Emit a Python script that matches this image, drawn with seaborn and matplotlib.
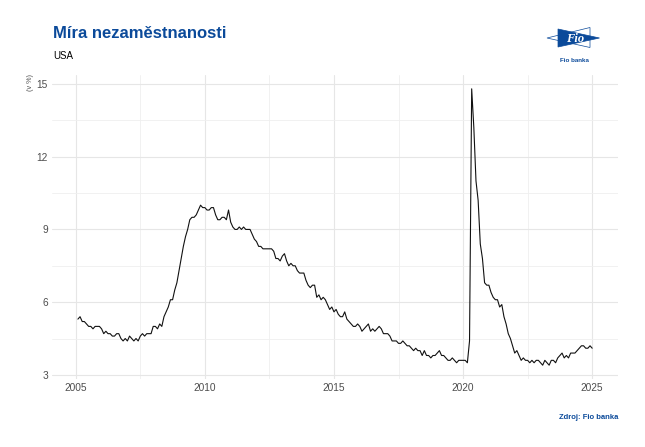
import numpy as np
import pandas as pd
import matplotlib
matplotlib.use("Agg")
import matplotlib.pyplot as plt
from matplotlib.patches import Polygon
from matplotlib.ticker import MultipleLocator
import seaborn as sns

# US unemployment rate (%), monthly, Jan 2005 - Dec 2024
rate_2005_2009 = [5.3, 5.4, 5.2, 5.2, 5.1, 5.0, 5.0, 4.9, 5.0, 5.0, 5.0, 4.9,
                  4.7, 4.8, 4.7, 4.7, 4.6, 4.6, 4.7, 4.7, 4.5, 4.4, 4.5, 4.4,
                  4.6, 4.5, 4.4, 4.5, 4.4, 4.6, 4.7, 4.6, 4.7, 4.7, 4.7, 5.0,
                  5.0, 4.9, 5.1, 5.0, 5.4, 5.6, 5.8, 6.1, 6.1, 6.5, 6.8, 7.3,
                  7.8, 8.3, 8.7, 9.0, 9.4, 9.5, 9.5, 9.6, 9.8, 10.0, 9.9, 9.9]
rate_2010_2014 = [9.8, 9.8, 9.9, 9.9, 9.6, 9.4, 9.4, 9.5, 9.5, 9.4, 9.8, 9.3,
                  9.1, 9.0, 9.0, 9.1, 9.0, 9.1, 9.0, 9.0, 9.0, 8.8, 8.6, 8.5,
                  8.3, 8.3, 8.2, 8.2, 8.2, 8.2, 8.2, 8.1, 7.8, 7.8, 7.7, 7.9,
                  8.0, 7.7, 7.5, 7.6, 7.5, 7.5, 7.3, 7.2, 7.2, 7.2, 6.9, 6.7,
                  6.6, 6.7, 6.7, 6.2, 6.3, 6.1, 6.2, 6.1, 5.9, 5.7, 5.8, 5.6]
rate_2015_2019 = [5.7, 5.5, 5.4, 5.4, 5.6, 5.3, 5.2, 5.1, 5.0, 5.0, 5.1, 5.0,
                  4.8, 4.9, 5.0, 5.1, 4.8, 4.9, 4.8, 4.9, 5.0, 4.9, 4.7, 4.7,
                  4.7, 4.6, 4.4, 4.4, 4.4, 4.3, 4.3, 4.4, 4.3, 4.2, 4.2, 4.1,
                  4.0, 4.1, 4.0, 4.0, 3.8, 4.0, 3.8, 3.8, 3.7, 3.8, 3.8, 3.9,
                  4.0, 3.8, 3.8, 3.7, 3.6, 3.6, 3.7, 3.6, 3.5, 3.6, 3.6, 3.6]
rate_2020_2024 = [3.6, 3.5, 4.4, 14.8, 13.2, 11.0, 10.2, 8.4, 7.8, 6.8, 6.7, 6.7,
                  6.4, 6.2, 6.1, 6.1, 5.8, 5.9, 5.4, 5.1, 4.7, 4.5, 4.2, 3.9,
                  4.0, 3.8, 3.6, 3.7, 3.6, 3.6, 3.5, 3.6, 3.5, 3.6, 3.6, 3.5,
                  3.4, 3.6, 3.5, 3.4, 3.6, 3.6, 3.5, 3.7, 3.8, 3.9, 3.7, 3.8,
                  3.7, 3.9, 3.9, 3.9, 4.0, 4.1, 4.2, 4.2, 4.1, 4.1, 4.2, 4.1]

title = "Míra nezaměstnanosti"
subtitle = "USA"
y_label = "(v %)"
caption = "Zdroj: Fio banka"

FIO_BLUE = "#0b4a9a"
W, H = 645, 447

rates = rate_2005_2009 + rate_2010_2014 + rate_2015_2019 + rate_2020_2024
dates = pd.date_range("2005-01-31", periods=len(rates), freq=pd.offsets.MonthEnd())
df = pd.DataFrame({"year": dates.year + dates.month / 12.0, "rate": rates})

sns.set_theme(style="whitegrid")
plt.rcParams["font.family"] = ["Liberation Sans", "DejaVu Sans"]

fig = plt.figure(figsize=(W / 100, H / 100), dpi=100)
ax = fig.add_axes([52 / W, 68 / H, (618 - 52) / W, (372 - 68) / H])

sns.lineplot(data=df, x="year", y="rate", ax=ax, color="#111111", linewidth=0.8)

ax.set_xlim(2004.08, 2026.0)
ax.set_ylim(2.83, 15.37)
ax.xaxis.set_major_locator(MultipleLocator(5))
ax.xaxis.set_minor_locator(MultipleLocator(2.5))
ax.yaxis.set_major_locator(MultipleLocator(3))
ax.yaxis.set_minor_locator(MultipleLocator(1.5))
ax.grid(which="major", color="#e6e6e6", linewidth=0.8)
ax.grid(which="minor", color="#efefef", linewidth=0.6)
ax.set_facecolor("white")
for s in ax.spines.values():
    s.set_visible(False)
ax.tick_params(axis="both", which="both", length=0, labelsize=7.3,
               labelcolor="#4d4d4d", pad=3)
ax.set_xlabel("")
ax.set_ylabel("")

# titles and caption
fig.text(53 / W, 1 - 38.5 / H, title, fontsize=12, fontweight="bold",
         color=FIO_BLUE, ha="left", va="baseline")
fig.text(53 / W, 1 - 59 / H, subtitle, fontsize=7, color="black",
         ha="left", va="baseline")
fig.text(30 / W, 1 - 74 / H, y_label, fontsize=5.2, color="#4d4d4d",
         rotation=90, ha="center", va="top")
fig.text(618 / W, 1 - 419 / H, caption, fontsize=5.5, fontweight="bold",
         color=FIO_BLUE, ha="right", va="baseline")

# Fio banka logo
lax = fig.add_axes([540 / W, 1 - 66 / H, 70 / W, 44 / H])
lax.set_xlim(540, 610)
lax.set_ylim(66, 22)
lax.axis("off")
lax.add_patch(Polygon([(590, 27.5), (590, 47.5), (547, 38)], closed=True,
                      fill=False, edgecolor=FIO_BLUE, linewidth=0.5))
lax.add_patch(Polygon([(558, 29), (558, 47), (599.5, 38)], closed=True,
                      facecolor=FIO_BLUE, edgecolor=FIO_BLUE, linewidth=0.5))
lax.text(575, 38.5, "Fio", fontsize=9, fontweight="bold", fontstyle="italic",
         family=["Liberation Serif", "DejaVu Serif"], color="white",
         ha="center", va="center")
lax.text(574, 60.5, "Fio banka", fontsize=4.5, fontweight="bold",
         color=FIO_BLUE, ha="center", va="center")

fig.savefig("out.png", dpi=100, facecolor="white")
